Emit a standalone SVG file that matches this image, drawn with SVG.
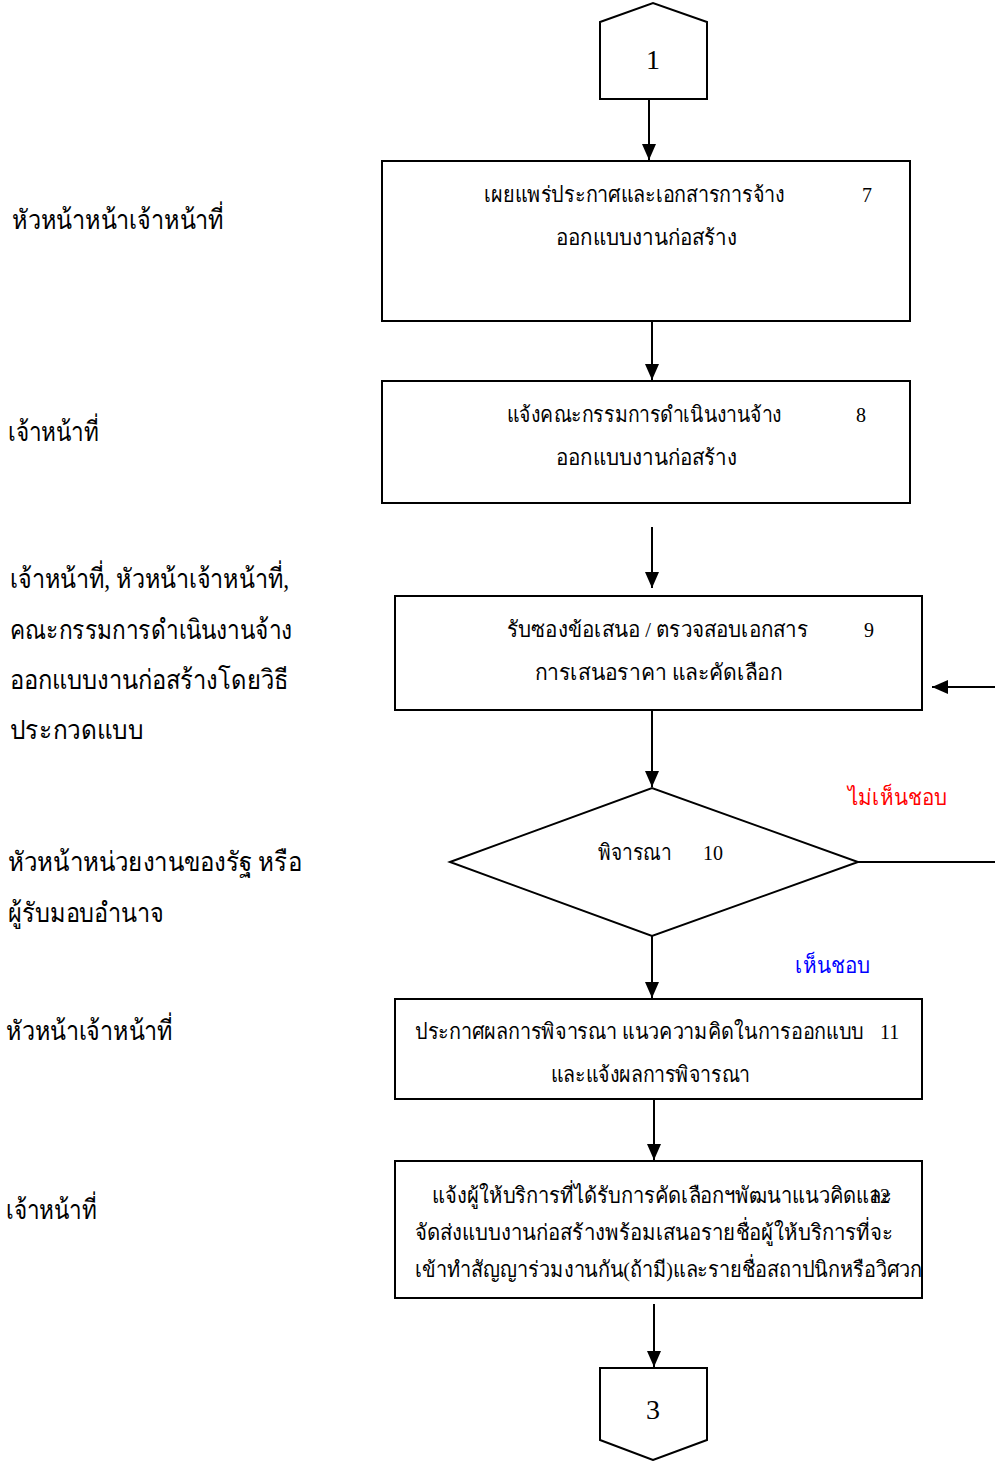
<svg xmlns="http://www.w3.org/2000/svg" width="995" height="1461" viewBox="0 0 995 1461">
<style>
.s{fill:none;stroke:#000;stroke-width:2}
.n{fill:#fff;stroke:#000;stroke-width:2}
.t{font-family:"Liberation Serif","Noto Sans CJK SC",serif;font-size:22px;fill:#000}
.l{font-family:"Liberation Serif","Noto Sans CJK SC",serif;font-size:27px;fill:#000}
.c{font-family:"Liberation Serif",serif;font-size:28px;fill:#000;text-anchor:middle}
.num{font-family:"Liberation Serif",serif;font-size:20px;fill:#000}
</style>
<defs>
<marker id="ah" markerWidth="16" markerHeight="14" refX="16" refY="7" orient="auto" markerUnits="userSpaceOnUse">
<path d="M0,0 L16,7 L0,14 Z" fill="#000"/>
</marker>
</defs>
<g id="connectors">
<line class="s" x1="649" y1="99" x2="649" y2="160" marker-end="url(#ah)"/>
<line class="s" x1="652" y1="321" x2="652" y2="380" marker-end="url(#ah)"/>
<line class="s" x1="652" y1="527" x2="652" y2="588" marker-end="url(#ah)"/>
<line class="s" x1="995" y1="687" x2="932" y2="687" marker-end="url(#ah)"/>
<line class="s" x1="652" y1="710" x2="652" y2="787" marker-end="url(#ah)"/>
<line class="s" x1="858" y1="862" x2="995" y2="862"/>
<line class="s" x1="652" y1="936" x2="652" y2="998" marker-end="url(#ah)"/>
<line class="s" x1="654" y1="1099" x2="654" y2="1160" marker-end="url(#ah)"/>
<line class="s" x1="654" y1="1304" x2="654" y2="1367" marker-end="url(#ah)"/>
<text x="848" y="805" class="t" style="fill:#ff0000" textLength="99" lengthAdjust="spacingAndGlyphs">ไม่เห็นชอบ</text>
<text x="795" y="973" class="t" style="fill:#0000ff" textLength="75" lengthAdjust="spacingAndGlyphs">เห็นชอบ</text>
</g>
<g id="start">
<polygon class="n" points="600,99 600,22 653,3 707,22 707,99"/>
<text x="653" y="69" class="c">1</text>
</g>
<g id="step7">
<rect class="n" x="382" y="161" width="528" height="160"/>
<text x="484" y="202" class="t" textLength="301" lengthAdjust="spacingAndGlyphs">เผยแพร่ประกาศและเอกสารการจ้าง</text>
<text x="862" y="202" class="num">7</text>
<text x="556" y="245" class="t" textLength="181" lengthAdjust="spacingAndGlyphs">ออกแบบงานก่อสร้าง</text>
</g>
<g id="step8">
<rect class="n" x="382" y="381" width="528" height="122"/>
<text x="507" y="422" class="t" textLength="275" lengthAdjust="spacingAndGlyphs">แจ้งคณะกรรมการดำเนินงานจ้าง</text>
<text x="856" y="422" class="num">8</text>
<text x="556" y="465" class="t" textLength="181" lengthAdjust="spacingAndGlyphs">ออกแบบงานก่อสร้าง</text>
</g>
<g id="step9">
<rect class="n" x="395" y="596" width="527" height="114"/>
<text x="507" y="637" class="t" textLength="301" lengthAdjust="spacingAndGlyphs">รับซองข้อเสนอ / ตรวจสอบเอกสาร</text>
<text x="864" y="637" class="num">9</text>
<text x="535" y="680" class="t" textLength="247" lengthAdjust="spacingAndGlyphs">การเสนอราคา   และคัดเลือก</text>
</g>
<g id="step10">
<polygon class="n" points="450,862 652,788 858,862 652,936"/>
<text x="598" y="860" class="t" textLength="73" lengthAdjust="spacingAndGlyphs">พิจารณา</text>
<text x="703" y="860" class="num">10</text>
</g>
<g id="step11">
<rect class="n" x="395" y="999" width="527" height="100"/>
<text x="415" y="1039" class="t" textLength="449" lengthAdjust="spacingAndGlyphs">ประกาศผลการพิจารณา แนวความคิดในการออกแบบ</text>
<text x="880" y="1039" class="num">11</text>
<text x="551" y="1082" class="t" textLength="199" lengthAdjust="spacingAndGlyphs">และแจ้งผลการพิจารณา</text>
</g>
<g id="step12">
<rect class="n" x="395" y="1161" width="527" height="137"/>
<text x="432" y="1203" class="t" textLength="460" lengthAdjust="spacingAndGlyphs">แจ้งผู้ให้บริการที่ได้รับการคัดเลือกฯพัฒนาแนวคิดและ</text>
<text x="870" y="1203" class="num">12</text>
<text x="415" y="1240" class="t" textLength="478" lengthAdjust="spacingAndGlyphs">จัดส่งแบบงานก่อสร้างพร้อมเสนอรายชื่อผู้ให้บริการที่จะ</text>
<text x="415" y="1277" class="t" textLength="507" lengthAdjust="spacingAndGlyphs">เข้าทำสัญญาร่วมงานกัน(ถ้ามี)และรายชื่อสถาปนิกหรือวิศวก</text>
</g>
<g id="end">
<polygon class="n" points="600,1368 707,1368 707,1440 653,1460 600,1440"/>
<text x="653" y="1419" class="c">3</text>
</g>
<g id="roles">
<text x="12" y="229" class="l" textLength="212" lengthAdjust="spacingAndGlyphs">หัวหน้าหน้าเจ้าหน้าที่</text>
<text x="8" y="441" class="l" textLength="91" lengthAdjust="spacingAndGlyphs">เจ้าหน้าที่</text>
<text x="10" y="588" class="l" textLength="279" lengthAdjust="spacingAndGlyphs">เจ้าหน้าที่, หัวหน้าเจ้าหน้าที่,</text>
<text x="10" y="639" class="l" textLength="282" lengthAdjust="spacingAndGlyphs">คณะกรรมการดำเนินงานจ้าง</text>
<text x="10" y="689" class="l" textLength="278" lengthAdjust="spacingAndGlyphs">ออกแบบงานก่อสร้างโดยวิธี</text>
<text x="10" y="739" class="l" textLength="133" lengthAdjust="spacingAndGlyphs">ประกวดแบบ</text>
<text x="8" y="871" class="l" textLength="294" lengthAdjust="spacingAndGlyphs">หัวหน้าหน่วยงานของรัฐ หรือ</text>
<text x="8" y="922" class="l" textLength="156" lengthAdjust="spacingAndGlyphs">ผู้รับมอบอำนาจ</text>
<text x="6" y="1040" class="l" textLength="167" lengthAdjust="spacingAndGlyphs">หัวหน้าเจ้าหน้าที่</text>
<text x="6" y="1219" class="l" textLength="91" lengthAdjust="spacingAndGlyphs">เจ้าหน้าที่</text>
</g>
</svg>
